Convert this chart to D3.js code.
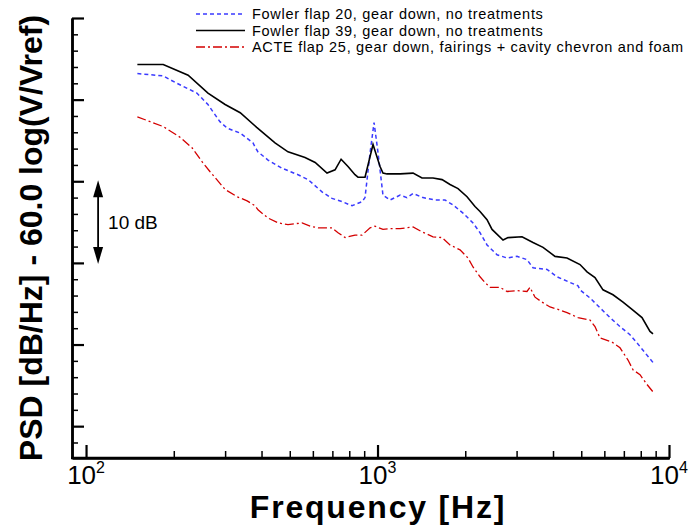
<!DOCTYPE html>
<html>
<head>
<meta charset="utf-8">
<script src="https://cdn.jsdelivr.net/npm/d3@7"></script>
<style>
  body { margin: 0; background: #fff; }
  svg { display: block; font-family: "Liberation Sans", Arial, sans-serif; }
</style>
</head>
<body>
<div id="chart"></div>
<script>
// Series: [frequency Hz, PSD dB]
const fowler20 = [
  [150, 53.2], [184, 52.9], [205, 52.0], [240, 50.8], [262, 49.4], [288, 47.3],
  [305, 46.5], [338, 45.9], [374, 44.7], [380, 44.2], [389, 43.6], [421, 42.6],
  [470, 41.6], [534, 40.8], [578, 40.2], [645, 38.7], [698, 37.9], [756, 37.5],
  [818, 37.0], [885, 37.5], [906, 38.0], [943, 43.5], [973, 47.2], [1004, 43.5],
  [1044, 38.3], [1104, 37.7], [1195, 38.3], [1262, 38.0], [1324, 38.5], [1432, 38.0],
  [1575, 37.7], [1704, 37.7], [1816, 37.1], [1965, 36.1], [2126, 34.9], [2247, 33.7],
  [2375, 32.2], [2570, 31.0], [2782, 30.6], [3010, 30.8], [3257, 30.4], [3415, 29.4],
  [3815, 29.2], [4129, 28.3], [4575, 27.6], [4873, 27.2], [4951, 26.7], [5358, 25.7],
  [5798, 24.5], [6275, 23.3], [6791, 22.2], [7349, 21.2], [7767, 20.2], [8274, 19.0],
  [8813, 17.8]
];

const fowler39 = [
  [150, 54.3], [184, 54.3], [224, 53.0], [262, 50.8], [300, 49.4], [338, 48.4],
  [385, 46.6], [445, 44.7], [493, 43.6], [564, 42.9], [611, 42.3], [671, 41.0],
  [715, 41.4], [750, 42.7], [792, 41.8], [837, 40.8], [857, 40.5], [906, 40.5],
  [965, 44.5], [1020, 41.8], [1044, 41.0], [1078, 40.9], [1195, 40.9], [1324, 41.0],
  [1421, 40.4], [1550, 40.4], [1665, 40.2], [1773, 39.6], [1889, 39.1], [2028, 38.1],
  [2160, 36.9], [2247, 36.3], [2375, 35.3], [2471, 34.1], [2695, 32.8], [2804, 33.1],
  [3131, 33.2], [3415, 32.5], [3697, 31.9], [4064, 30.8], [4468, 30.6], [4951, 29.8],
  [5233, 28.9], [5573, 28.2], [5937, 26.7], [6425, 26.1], [6954, 25.2], [7466, 24.3],
  [8080, 23.3], [8607, 21.6], [8813, 21.3]
];

const acte25 = [
  [150, 47.9], [166, 47.3], [184, 46.7], [210, 45.4], [231, 44.1], [250, 42.4],
  [266, 41.2], [300, 39.0], [330, 38.1], [357, 37.6], [380, 37.0], [389, 36.5],
  [421, 35.5], [456, 34.9], [493, 34.7], [551, 34.9], [587, 34.5], [625, 34.3],
  [698, 34.3], [732, 33.7], [774, 33.1], [837, 33.4], [885, 33.4], [943, 34.3],
  [980, 34.5], [1044, 34.1], [1104, 34.2], [1195, 34.2], [1324, 34.4], [1421, 33.8],
  [1550, 33.2], [1665, 33.1], [1773, 32.2], [1919, 31.6], [2044, 30.6], [2126, 29.5],
  [2247, 28.3], [2338, 27.6], [2432, 27.0], [2632, 27.0], [2782, 26.5], [3010, 26.6],
  [3257, 26.5], [3335, 27.0], [3470, 25.8], [3667, 25.2], [3907, 24.6], [4162, 24.3],
  [4468, 23.9], [4873, 23.3], [5358, 23.0], [5573, 22.2], [5798, 20.8], [6375, 20.3],
  [6791, 19.6], [7234, 18.1], [7525, 16.9], [7954, 16.3], [8406, 15.1], [8813, 14.2]
];

const legendLabels = [
  "Fowler flap 20, gear down, no treatments",
  "Fowler flap 39, gear down, no treatments",
  "ACTE flap 25, gear down, fairings + cavity chevron and foam"
];

const xMajorTicks = [100, 1000, 10000];
const xTickExponents = ["2", "3", "4"];
const yMajorTicks = [10, 20, 30, 40, 50, 60];

// Dimensions
const width = 690, height = 525;
const plot = { left: 72, right: 669, top: 18, bottom: 458 };

const svg = d3.select("#chart")
  .append("svg")
  .attr("width", width)
  .attr("height", height);

// Scales
const x = d3.scaleLog()
  .domain([89.5, 10000])
  .range([plot.left, plot.right]);

const y = d3.scaleLinear()
  .domain([6.1, 60])
  .range([plot.bottom, plot.top]);

// minor ticks
const xMinorTicks = [];
[100, 1000].forEach(d => { for (let k = 2; k <= 9; k++) xMinorTicks.push(d * k); });
const yMinorTicks = d3.range(8, 60, 2).filter(v => v % 10 !== 0);

// Axes
function styleAxis(g) {
  g.select(".domain").attr("stroke", "#000").attr("stroke-width", 2.5);
  g.selectAll(".tick line").attr("stroke", "#000").attr("stroke-width", 1.5);
  g.selectAll(".tick text").remove();
}

svg.append("g")
  .attr("transform", `translate(0,${plot.bottom})`)
  .call(d3.axisTop(x).tickValues(xMinorTicks).tickSize(7).tickSizeOuter(0).tickFormat(""))
  .call(styleAxis);

svg.append("g")
  .attr("transform", `translate(0,${plot.bottom})`)
  .call(d3.axisTop(x).tickValues(xMajorTicks).tickSize(13).tickSizeOuter(0).tickFormat(""))
  .call(styleAxis)
  .call(g => g.select(".domain").attr("d", `M${plot.left - 1},0H${plot.right + 1}`))
  .call(g => g.selectAll(".tick line").attr("stroke-width", 2.2));

svg.append("g")
  .attr("transform", `translate(${plot.left},0)`)
  .call(d3.axisRight(y).tickValues(yMinorTicks).tickSize(6).tickSizeOuter(0).tickFormat(""))
  .call(styleAxis);

svg.append("g")
  .attr("transform", `translate(${plot.left},0)`)
  .call(d3.axisRight(y).tickValues(yMajorTicks).tickSize(12).tickSizeOuter(0).tickFormat(""))
  .call(styleAxis)
  .call(g => g.selectAll(".tick line").attr("stroke-width", 2.2));

// x tick labels 10^n
xMajorTicks.forEach((t, i) => {
  const txt = svg.append("text")
    .attr("x", x(t))
    .attr("y", 484)
    .attr("text-anchor", "middle")
    .attr("font-size", 26);
  txt.append("tspan").text("10");
  txt.append("tspan")
    .attr("dy", -11)
    .attr("font-size", 16)
    .text(xTickExponents[i]);
});

// Axis titles
svg.append("text")
  .attr("x", 378)
  .attr("y", 518)
  .attr("text-anchor", "middle")
  .attr("font-size", 32)
  .attr("font-weight", "bold")
  .attr("letter-spacing", 1.8)
  .text("Frequency [Hz]");

svg.append("text")
  .attr("transform", "translate(42,238) rotate(-90)")
  .attr("text-anchor", "middle")
  .attr("font-size", 32)
  .attr("font-weight", "bold")
  .text("PSD [dB/Hz] - 60.0 log(V/Vref)");

// Series
const series = [
  { data: fowler20, color: "#3a3aff", dash: "4,3", width: 1.5 },
  { data: fowler39, color: "#000000", dash: null, width: 1.6 },
  { data: acte25, color: "#d40000", dash: "9,3,2,3", width: 1.3 }
];

const line = d3.line()
  .x(d => x(d[0]))
  .y(d => y(d[1]));

svg.selectAll(".series")
  .data(series)
  .enter()
  .append("path")
  .attr("class", "series")
  .attr("d", d => line(d.data))
  .attr("fill", "none")
  .attr("stroke", d => d.color)
  .attr("stroke-width", d => d.width)
  .attr("stroke-dasharray", d => d.dash);

// 10 dB arrow
const arrowF = 110;
const ax = x(arrowF);
svg.append("line")
  .attr("x1", ax).attr("x2", ax)
  .attr("y1", y(40) + 10).attr("y2", y(30) - 10)
  .attr("stroke", "#000").attr("stroke-width", 1.8);
svg.append("path")
  .attr("d", `M${ax},${y(40) - 1}L${ax - 5},${y(40) + 16}L${ax + 5},${y(40) + 16}Z`)
  .attr("fill", "#000");
svg.append("path")
  .attr("d", `M${ax},${y(30) + 1}L${ax - 5},${y(30) - 16}L${ax + 5},${y(30) - 16}Z`)
  .attr("fill", "#000");
svg.append("text")
  .attr("x", ax + 10)
  .attr("y", (y(40) + y(30)) / 2 + 7)
  .attr("font-size", 19)
  .text("10 dB");

// Legend
const legend = svg.append("g");
series.forEach((s, i) => {
  const ly = 14 + i * 16.5;
  legend.append("line")
    .attr("x1", 196).attr("x2", 245)
    .attr("y1", ly).attr("y2", ly)
    .attr("stroke", s.color)
    .attr("stroke-width", s.width)
    .attr("stroke-dasharray", s.dash);
  legend.append("text")
    .attr("x", 252)
    .attr("y", ly + 5)
    .attr("font-size", 14.5)
    .attr("letter-spacing", 0.7)
    .text(legendLabels[i]);
});
</script>
</body>
</html>
